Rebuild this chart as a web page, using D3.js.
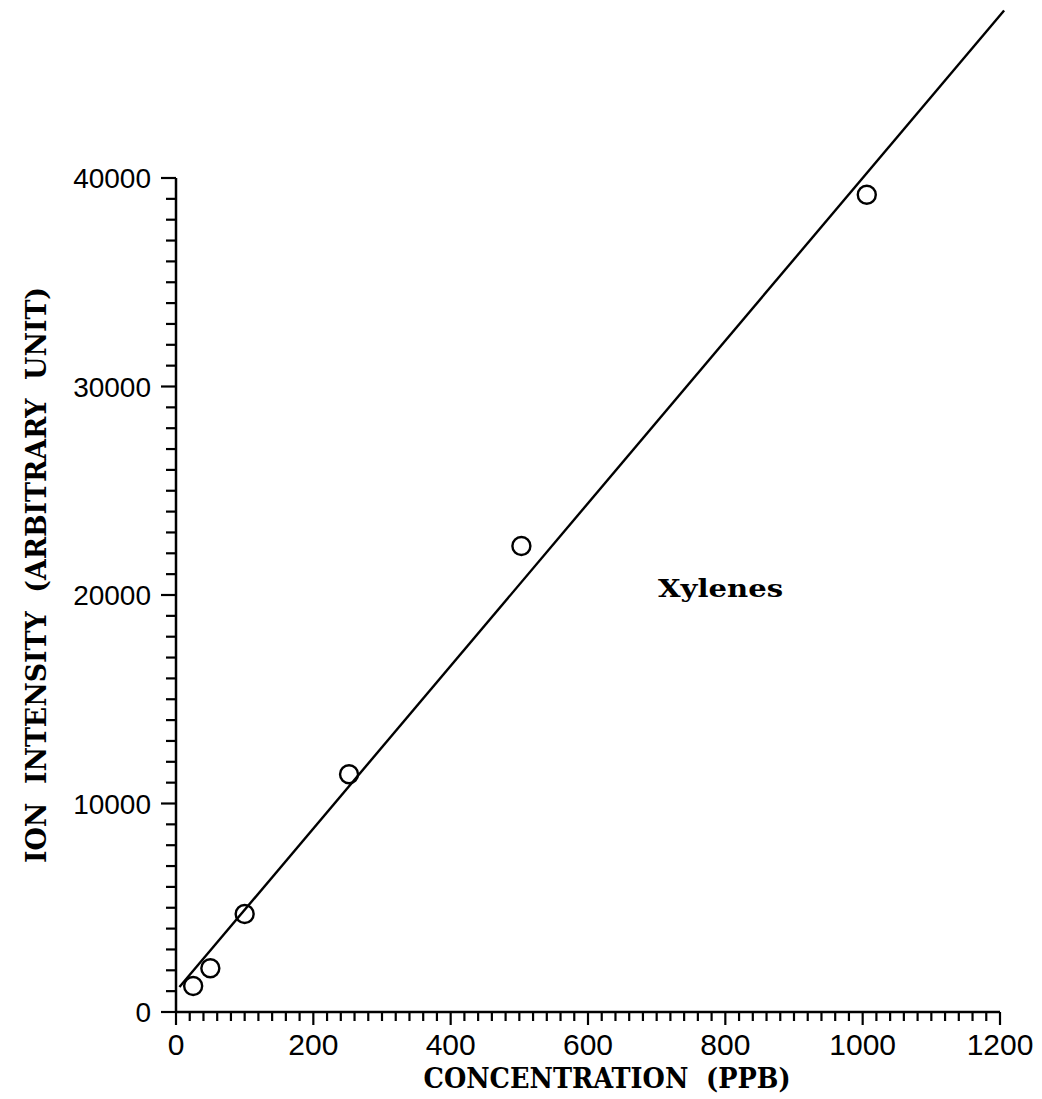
<!DOCTYPE html>
<html>
<head>
<meta charset="utf-8">
<script src="https://cdn.jsdelivr.net/npm/d3@7"></script>
<style>
  body { margin: 0; background: #fff; }
  text { white-space: pre; }
</style>
</head>
<body>
<div id="chart"></div>
<script>
// measured points (ppb vs ion intensity)
const concentration = [25, 50, 100, 252, 503, 1006]
const intensity = [1250, 2100, 4700, 11400, 22350, 39200]

// fitted straight line as drawn in the figure
const fitX = [5, 1206]
const fitSlope = 39.0
const fitIntercept = 1000

const xTicks = [0, 200, 400, 600, 800, 1000, 1200]
const yTicks = [0, 10000, 20000, 30000, 40000]

const xTitle = "CONCENTRATION  (PPB)"
const yTitle = "ION  INTENSITY  (ARBITRARY  UNIT)"
const seriesLabel = "Xylenes"

const width = 1042
const height = 1099
const titleFont = "'DejaVu Serif Condensed', 'DejaVu Serif', serif"

const svg = d3.select("#chart")
    .append("svg")
    .attr("width", width)
    .attr("height", height)
    .style("background", "#fff")

const x = d3.scaleLinear().domain([0, 1200]).range([176, 1000])
const y = d3.scaleLinear().domain([0, 40000]).range([1012, 178])

// x axis: minor ticks every 20, majors every 200
const xMinor = d3.range(0, 1201, 20)
svg.append("line")
    .attr("x1", x(0)).attr("x2", x(1200))
    .attr("y1", y(0)).attr("y2", y(0))
    .attr("stroke", "#000").attr("stroke-width", 2.5)
svg.selectAll(".xtick")
    .data(xMinor)
    .join("line")
    .attr("x1", d => x(d)).attr("x2", d => x(d))
    .attr("y1", y(0))
    .attr("y2", d => y(0) + (d % 200 === 0 ? 13 : 9))
    .attr("stroke", "#000").attr("stroke-width", 2.2)
svg.selectAll(".xlab")
    .data(xTicks)
    .join("text")
    .attr("x", d => x(d))
    .attr("y", 1055)
    .attr("text-anchor", "middle")
    .attr("font-family", "Liberation Sans, Arial, sans-serif")
    .attr("font-size", 30)
    .attr("fill", "#000")
    .text(d => d)

// y axis: minor ticks every 1000, majors every 10000
const yMinor = d3.range(0, 40001, 1000)
svg.append("line")
    .attr("x1", x(0)).attr("x2", x(0))
    .attr("y1", y(0)).attr("y2", y(40000))
    .attr("stroke", "#000").attr("stroke-width", 2.5)
svg.selectAll(".ytick")
    .data(yMinor)
    .join("line")
    .attr("x1", x(0))
    .attr("x2", d => x(0) - (d % 10000 === 0 ? 15 : 10))
    .attr("y1", d => y(d)).attr("y2", d => y(d))
    .attr("stroke", "#000").attr("stroke-width", 2.2)
svg.selectAll(".ylab")
    .data(yTicks)
    .join("text")
    .attr("x", 151)
    .attr("y", d => y(d) + 10)
    .attr("text-anchor", "end")
    .attr("font-family", "Liberation Sans, Arial, sans-serif")
    .attr("font-size", 28)
    .attr("fill", "#000")
    .text(d => d)

// axis titles
svg.append("text")
    .attr("x", 607)
    .attr("y", 1088)
    .attr("text-anchor", "middle")
    .attr("font-family", titleFont)
    .attr("font-weight", "bold")
    .attr("font-size", 28)
    .attr("textLength", 367)
    .attr("lengthAdjust", "spacingAndGlyphs")
    .text(xTitle)

svg.append("text")
    .attr("transform", "translate(46, 575) rotate(-90)")
    .attr("text-anchor", "middle")
    .attr("font-family", titleFont)
    .attr("font-weight", "bold")
    .attr("font-size", 27)
    .attr("textLength", 576)
    .attr("lengthAdjust", "spacingAndGlyphs")
    .text(yTitle)

// fit line
const line = d3.line()
    .x(d => x(d))
    .y(d => y(fitIntercept + fitSlope * d))
svg.append("path")
    .datum(fitX)
    .attr("d", line)
    .attr("fill", "none")
    .attr("stroke", "#000")
    .attr("stroke-width", 2.4)

// data circles
svg.selectAll(".pt")
    .data(concentration)
    .join("circle")
    .attr("cx", d => x(d))
    .attr("cy", (d, i) => y(intensity[i]))
    .attr("r", 9)
    .attr("fill", "none")
    .attr("stroke", "#000")
    .attr("stroke-width", 2.4)

svg.append("text")
    .attr("x", 658)
    .attr("y", 597)
    .attr("font-family", titleFont)
    .attr("font-weight", "bold")
    .attr("font-size", 24)
    .attr("textLength", 125)
    .attr("lengthAdjust", "spacingAndGlyphs")
    .text(seriesLabel)
</script>
</body>
</html>
